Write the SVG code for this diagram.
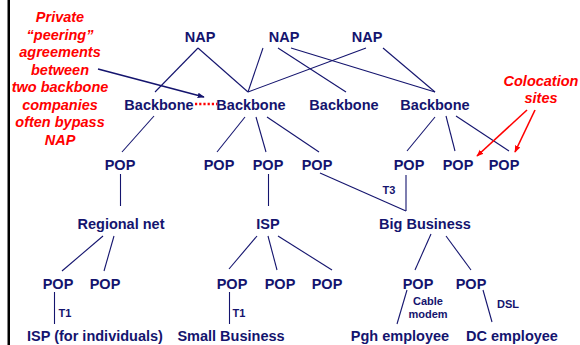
<svg xmlns="http://www.w3.org/2000/svg" width="580" height="345" viewBox="0 0 580 345">
<defs>
<style>
.n{font-family:"Liberation Sans",Arial,sans-serif;font-weight:bold;font-size:14.5px;fill:#14146e;text-anchor:middle}
.s{font-family:"Liberation Sans",Arial,sans-serif;font-weight:bold;font-size:11px;fill:#14146e;text-anchor:middle}
.r{font-family:"Liberation Sans",Arial,sans-serif;font-weight:bold;font-style:italic;font-size:14.5px;fill:#ff0000;text-anchor:middle}
.c line{stroke:#14146e;stroke-width:1.1}
</style>
<marker id="an" viewBox="0 0 10 10" refX="9" refY="5" markerWidth="7" markerHeight="7" orient="auto" markerUnits="userSpaceOnUse"><path d="M0,1 L10,5 L0,9 z" fill="#14146e"/></marker>
<marker id="ar" viewBox="0 0 10 10" refX="9" refY="5" markerWidth="7" markerHeight="7" orient="auto" markerUnits="userSpaceOnUse"><path d="M0,1 L10,5 L0,9 z" fill="#ff0000"/></marker>
</defs>
<rect width="580" height="345" fill="#fff"/>
<rect x="7.5" y="0" width="2.5" height="345" fill="#000"/>
<g id="connectors" class="c">
<line x1="198" y1="48" x2="155" y2="92"/>
<line x1="198" y1="48" x2="248" y2="92"/>
<line x1="263" y1="48" x2="248" y2="92"/>
<line x1="278" y1="48" x2="346" y2="92"/>
<line x1="291" y1="48" x2="435" y2="92"/>
<line x1="366" y1="48" x2="248" y2="92"/>
<line x1="383" y1="48" x2="435" y2="92"/>
<line x1="154" y1="116" x2="122" y2="152"/>
<line x1="245" y1="117" x2="217" y2="152"/>
<line x1="256" y1="117" x2="266" y2="152"/>
<line x1="267" y1="117" x2="319" y2="152"/>
<line x1="435" y1="117" x2="407" y2="151"/>
<line x1="446" y1="116" x2="455" y2="151"/>
<line x1="456" y1="116" x2="509" y2="151"/>
<line x1="120.5" y1="174" x2="120.5" y2="206"/>
<line x1="268.5" y1="174" x2="268.5" y2="206"/>
<line x1="320" y1="173" x2="406" y2="211"/>
<line x1="406" y1="175" x2="406" y2="211"/>
<line x1="103" y1="236" x2="62" y2="271"/>
<line x1="114" y1="236" x2="104" y2="271"/>
<line x1="257" y1="236" x2="229" y2="269"/>
<line x1="268" y1="236" x2="277" y2="270"/>
<line x1="278" y1="236" x2="332" y2="270"/>
<line x1="431" y1="234" x2="415" y2="270"/>
<line x1="446" y1="236" x2="471" y2="270"/>
<line x1="54.5" y1="292" x2="54.5" y2="324"/>
<line x1="229.5" y1="292" x2="229.5" y2="324"/>
<line x1="407" y1="290" x2="397" y2="324"/>
<line x1="483" y1="290" x2="492" y2="322"/>
<line x1="195" y1="104" x2="217" y2="104" style="stroke:#ff0000;stroke-width:2.5;stroke-dasharray:2.2 2"/>
<line x1="98" y1="69" x2="204" y2="97" style="stroke-width:1.6" marker-end="url(#an)"/>
<line x1="527" y1="110" x2="477" y2="156" style="stroke:#ff0000;stroke-width:1.6" marker-end="url(#ar)"/>
<line x1="535" y1="110" x2="515" y2="152" style="stroke:#ff0000;stroke-width:1.6" marker-end="url(#ar)"/>
</g>
<g id="nap1"><text class="n" x="200" y="42">NAP</text></g>
<g id="nap2"><text class="n" x="284" y="42">NAP</text></g>
<g id="nap3"><text class="n" x="367" y="42">NAP</text></g>
<g id="backbone1"><text class="n" x="159" y="110">Backbone</text></g>
<g id="backbone2"><text class="n" x="251" y="110">Backbone</text></g>
<g id="backbone3"><text class="n" x="344" y="110">Backbone</text></g>
<g id="backbone4"><text class="n" x="435" y="110">Backbone</text></g>
<g id="pop1"><text class="n" x="120" y="170">POP</text></g>
<g id="pop2"><text class="n" x="219" y="170">POP</text></g>
<g id="pop3"><text class="n" x="268" y="170">POP</text></g>
<g id="pop4"><text class="n" x="317" y="170">POP</text></g>
<g id="pop5"><text class="n" x="409" y="170">POP</text></g>
<g id="pop6"><text class="n" x="458" y="170">POP</text></g>
<g id="pop7"><text class="n" x="504" y="170">POP</text></g>
<g id="regional"><text class="n" x="121" y="229">Regional net</text></g>
<g id="isp"><text class="n" x="268" y="229">ISP</text></g>
<g id="bigbusiness"><text class="n" x="425" y="229">Big Business</text></g>
<g id="pop8"><text class="n" x="58" y="289">POP</text></g>
<g id="pop9"><text class="n" x="105" y="289">POP</text></g>
<g id="pop10"><text class="n" x="232" y="289">POP</text></g>
<g id="pop11"><text class="n" x="280" y="289">POP</text></g>
<g id="pop12"><text class="n" x="327" y="289">POP</text></g>
<g id="pop13"><text class="n" x="418" y="289">POP</text></g>
<g id="pop14"><text class="n" x="471" y="289">POP</text></g>
<g id="ispind"><text class="n" x="95" y="341">ISP (for individuals)</text></g>
<g id="smallbiz"><text class="n" x="231" y="341">Small Business</text></g>
<g id="pgh"><text class="n" x="400" y="341">Pgh employee</text></g>
<g id="dc"><text class="n" x="512" y="341">DC employee</text></g>
<g id="labels">
<text class="s" x="65" y="317">T1</text>
<text class="s" x="239" y="317">T1</text>
<text class="s" x="389" y="194">T3</text>
<text class="s" x="428" y="305">Cable</text>
<text class="s" x="428" y="318">modem</text>
<text class="s" x="508" y="308">DSL</text>
</g>
<g id="note-peering">
<text class="r" x="60" y="22">Private</text>
<text class="r" x="60" y="39.5">“peering”</text>
<text class="r" x="60" y="57">agreements</text>
<text class="r" x="60" y="74.5">between</text>
<text class="r" x="60" y="92">two backbone</text>
<text class="r" x="60" y="109.5">companies</text>
<text class="r" x="60" y="127">often bypass</text>
<text class="r" x="60" y="144.5">NAP</text>
</g>
<g id="note-colocation">
<text class="r" x="541" y="86">Colocation</text>
<text class="r" x="541" y="103">sites</text>
</g>
</svg>
